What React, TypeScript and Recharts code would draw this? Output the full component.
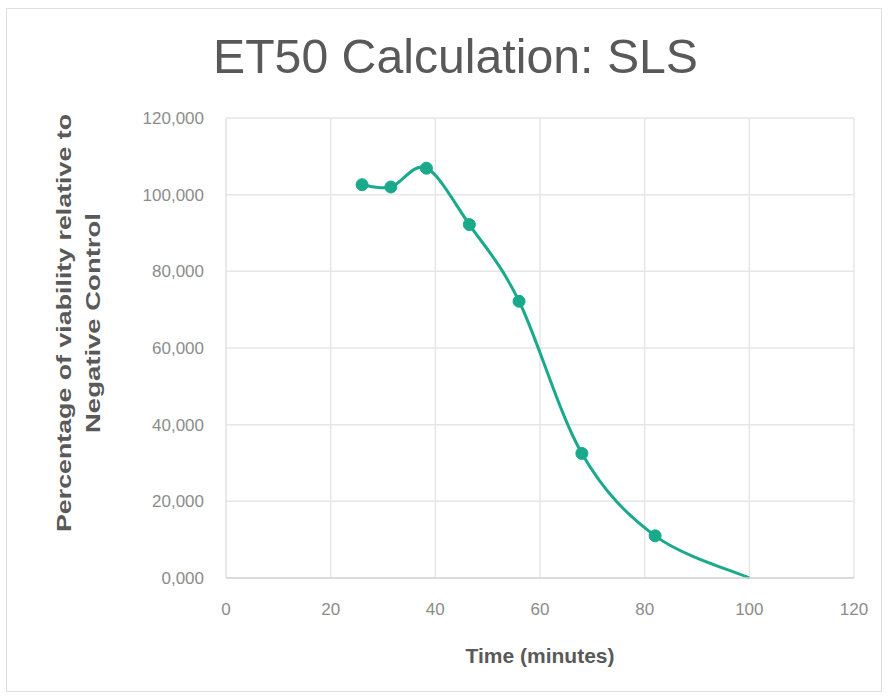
import React from 'react';
import { LineChart, Line, XAxis, YAxis, CartesianGrid } from 'recharts';

// Time in minutes and viability (% of negative control)
const times = [26, 31.5, 38.3, 46.5, 56, 68, 82, 100];
const viability = [102.6, 102.0, 106.9, 92.2, 72.2, 32.5, 11.0, 0];
const xTicks = [0, 20, 40, 60, 80, 100, 120];
const yTicks = [0, 20, 40, 60, 80, 100, 120];

const data = times.map((t, i) => ({ time: t, value: viability[i] }));

const teal = '#19a98b';
const font = '"Liberation Sans", Arial, sans-serif';

const fmt = (v: number) => v.toFixed(3).replace('.', ',');

// spreadsheet-style smoothing: bezier with tangents of (next - prev) / 6
const smoothCurve = (context: any) => {
  let pts: number[][] = [];
  return {
    areaStart() {},
    areaEnd() {},
    lineStart() { pts = []; },
    point(x: number, y: number) { pts.push([+x, +y]); },
    lineEnd() {
      const n = pts.length;
      if (!n) return;
      context.moveTo(pts[0][0], pts[0][1]);
      for (let i = 0; i < n - 1; i++) {
        const p0 = pts[Math.max(i - 1, 0)];
        const p1 = pts[i];
        const p2 = pts[i + 1];
        const p3 = pts[Math.min(i + 2, n - 1)];
        context.bezierCurveTo(
          p1[0] + (p2[0] - p0[0]) / 6, p1[1] + (p2[1] - p0[1]) / 6,
          p2[0] - (p3[0] - p1[0]) / 6, p2[1] - (p3[1] - p1[1]) / 6,
          p2[0], p2[1]
        );
      }
    },
  };
};

// last point is only where the smoothed line ends, no marker there
const renderDot = (props: any) => {
  const { cx, cy, index } = props;
  if (index === times.length - 1) return <g key={`d${index}`} />;
  return <circle key={`d${index}`} cx={cx} cy={cy} r={6} fill={teal} stroke={teal} />;
};

const YTitle = (props: any) => {
  const vb = props.viewBox || {};
  const cy = (vb.y ?? 118) + (vb.height ?? 460) / 2 - 25;
  return (
    <g fill="#595959" fontSize={21} fontWeight="bold" fontFamily={font}>
      <text x={71} y={cy} textAnchor="middle" transform={`rotate(-90 71 ${cy})`}
        textLength={418} lengthAdjust="spacingAndGlyphs">
        Percentage of viability relative to
      </text>
      <text x={100} y={cy} textAnchor="middle" transform={`rotate(-90 100 ${cy})`}
        textLength={220} lengthAdjust="spacingAndGlyphs">
        Negative Control
      </text>
    </g>
  );
};

export default function App() {
  return (
    <div style={{ position: 'absolute', left: 0, top: 0, width: 890, height: 698, background: '#fff' }}>
      <div style={{ position: 'absolute', left: 6, top: 8, width: 874, height: 682, border: '1px solid #dedede' }} />
      <svg width={890} height={100} style={{ position: 'absolute', left: 0, top: 0 }}>
        <text x={213} y={73} fontSize={48} fill="#595959" fontFamily={font}
          textLength={485} lengthAdjust="spacingAndGlyphs">
          ET50 Calculation: SLS
        </text>
      </svg>
      <div style={{ position: 'absolute', left: 0, top: 0 }}>
        <LineChart width={890} height={698} data={data}
          margin={{ top: 118, right: 36, bottom: 0, left: 0 }}>
          <CartesianGrid stroke="#e6e6e6" strokeWidth={1.5} />
          <XAxis type="number" dataKey="time" domain={[0, 120]} ticks={xTicks}
            height={120} tickLine={false} tickSize={0} tickMargin={25}
            axisLine={{ stroke: '#d6d6d6', strokeWidth: 1.5 }}
            tick={{ fill: '#8c8c8c', fontSize: 17, fontFamily: font }}
            label={{ value: 'Time (minutes)', position: 'insideBottom', offset: 35,
              fill: '#595959', fontSize: 21, fontWeight: 'bold', fontFamily: font }} />
          <YAxis type="number" domain={[0, 120]} ticks={yTicks} width={226}
            tickFormatter={fmt} tickLine={false} tickSize={0} tickMargin={22}
            axisLine={{ stroke: '#e6e6e6' }}
            tick={{ fill: '#8c8c8c', fontSize: 17, fontFamily: font }}
            label={<YTitle />} />
          <Line type={smoothCurve as any} dataKey="value" stroke={teal} strokeWidth={3}
            dot={renderDot} activeDot={false} isAnimationActive={false} />
        </LineChart>
      </div>
    </div>
  );
}
